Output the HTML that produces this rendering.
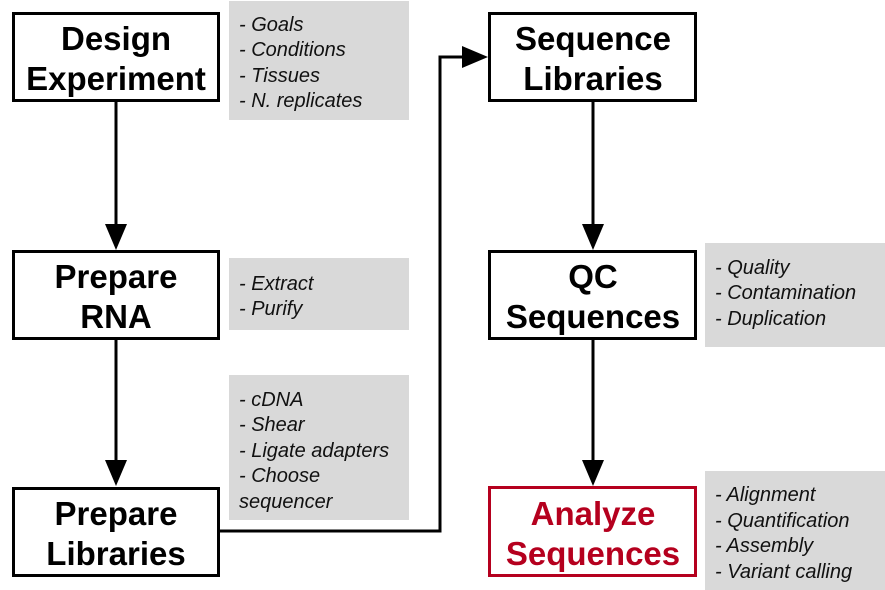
<!DOCTYPE html>
<html><head><meta charset="utf-8"><style>
html,body{margin:0;padding:0;background:#fff;}
svg{display:block;}
.t{font-family:"Liberation Sans",sans-serif;font-weight:bold;font-size:33px;text-anchor:middle;}
.i{font-family:"Liberation Sans",sans-serif;font-style:italic;font-size:20px;fill:#111;}
</style></head><body>
<svg width="885" height="590" viewBox="0 0 885 590">
<g fill="#d9d9d9">
<rect x="229" y="1" width="180" height="119"/>
<rect x="229" y="258" width="180" height="72"/>
<rect x="229" y="375" width="180" height="145"/>
<rect x="705" y="243" width="180" height="104"/>
<rect x="705" y="471" width="180" height="119"/>
</g>
<g fill="#fff" stroke="#000" stroke-width="3">
<rect x="13.5" y="13.5" width="205" height="87"/>
<rect x="13.5" y="251.5" width="205" height="87"/>
<rect x="13.5" y="488.5" width="205" height="87"/>
<rect x="489.5" y="13.5" width="206" height="87"/>
<rect x="489.5" y="251.5" width="206" height="87"/>
</g>
<rect x="489.5" y="487.5" width="206" height="88" fill="#fff" stroke="#b5001e" stroke-width="3"/>
<g stroke="#000" stroke-width="3" fill="none">
<line x1="116" y1="100" x2="116" y2="226"/>
<line x1="116" y1="338" x2="116" y2="462"/>
<polyline points="218,531 440,531 440,57 464,57"/>
<line x1="593" y1="100" x2="593" y2="226"/>
<line x1="593" y1="338" x2="593" y2="462"/>
</g>
<g fill="#000">
<polygon points="105,224 127,224 116,250"/>
<polygon points="105,460 127,460 116,486"/>
<polygon points="462,46 462,68 488,57"/>
<polygon points="582,224 604,224 593,250"/>
<polygon points="582,460 604,460 593,486"/>
</g>
<text class="t" x="116" y="50">Design</text>
<text class="t" x="116" y="90">Experiment</text>
<text class="t" x="116" y="288">Prepare</text>
<text class="t" x="116" y="328">RNA</text>
<text class="t" x="116" y="525">Prepare</text>
<text class="t" x="116" y="565">Libraries</text>
<text class="t" x="593" y="50">Sequence</text>
<text class="t" x="593" y="90">Libraries</text>
<text class="t" x="593" y="288">QC</text>
<text class="t" x="593" y="328">Sequences</text>
<text class="t" x="593" y="525" fill="#b5001e">Analyze</text>
<text class="t" x="593" y="565" fill="#b5001e">Sequences</text>
<text class="i" x="239" y="31">- Goals</text>
<text class="i" x="239" y="56">- Conditions</text>
<text class="i" x="239" y="82">- Tissues</text>
<text class="i" x="239" y="107">- N. replicates</text>
<text class="i" x="239" y="290">- Extract</text>
<text class="i" x="239" y="315">- Purify</text>
<text class="i" x="239" y="406">- cDNA</text>
<text class="i" x="239" y="431">- Shear</text>
<text class="i" x="239" y="457">- Ligate adapters</text>
<text class="i" x="239" y="482">- Choose</text>
<text class="i" x="239" y="508">sequencer</text>
<text class="i" x="715" y="274">- Quality</text>
<text class="i" x="715" y="299">- Contamination</text>
<text class="i" x="715" y="325">- Duplication</text>
<text class="i" x="715" y="501">- Alignment</text>
<text class="i" x="715" y="527">- Quantification</text>
<text class="i" x="715" y="552">- Assembly</text>
<text class="i" x="715" y="578">- Variant calling</text>
</svg>
</body></html>
